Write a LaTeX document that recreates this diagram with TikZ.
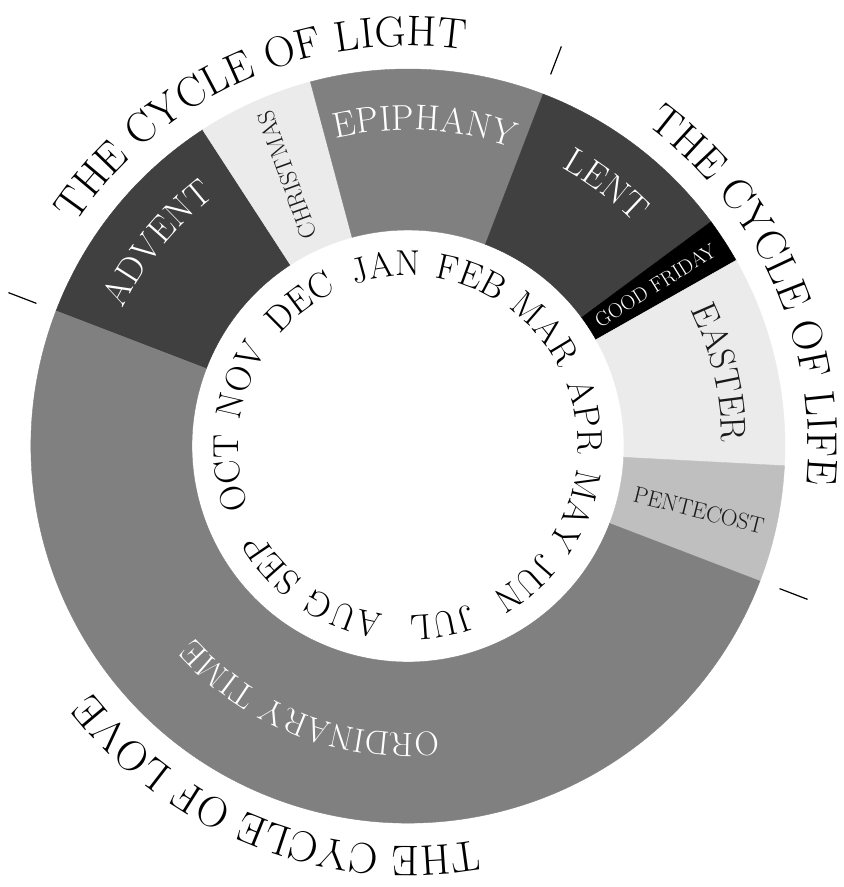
\documentclass[tikz,border=0pt]{standalone}
\usepackage{fontspec}
\usetikzlibrary{decorations.text}
\definecolor{segdark}{HTML}{404040}
\definecolor{seglight}{HTML}{EBEBEB}
\definecolor{segmid}{HTML}{808080}
\definecolor{segpale}{HTML}{BFBFBF}
\definecolor{inkdark}{HTML}{1A1A1A}
\newcommand\titfont{\fontsize{43}{43}\selectfont}
\newcommand\labfont{\fontsize{36}{36}\selectfont}
\newcommand\ordfont{\fontsize{34}{34}\selectfont}
\newcommand\monfont{\fontsize{36}{36}\selectfont}
% sector: colour, start angle, end angle
\newcommand\ringsector[3]{\fill[#1, draw=#1, line width=0.4pt] (#2:216pt) -- (#2:377pt) arc[start angle=#2, end angle=#3, radius=377pt] -- (#3:216pt) arc[start angle=#3, end angle=#2, radius=216pt] -- cycle;}
% curved text, clockwise, tops outward: centre angle, radius, format, text, half span
\newcommand\curvetext[5]{\path[decorate, decoration={text along path, text={|#3|#4}, text align=center}] ({#1+#5}:#2) arc[start angle={#1+#5}, end angle={#1-#5}, radius=#2];}
\tikzset{tick/.style={line width=1.2pt, black}}
\begin{document}
\begin{tikzpicture}[x=1pt, y=1pt]
\useasboundingbox (-408pt,-441pt) rectangle (436pt,446pt);
\fill[white] (-408pt,-441pt) rectangle (436pt,446pt);
% ring segments
\ringsector{segdark}{159}{123}
\ringsector{seglight}{123}{105}
\ringsector{segmid}{105}{69}
\ringsector{segdark}{69}{36.5}
\ringsector{black}{36.5}{29.5}
\ringsector{seglight}{29.5}{-3}
\ringsector{segpale}{-3}{-21}
\ringsector{segmid}{-21}{-201}
% cycle separators
\draw[tick] (159:398pt) -- (159:428pt);
\draw[tick] (69:398pt) -- (69:428pt);
\draw[tick] (-21:398pt) -- (-21:428pt);
% season labels
\curvetext{141}{316pt}{\labfont\color{white}}{ADVENT}{50}
\curvetext{87}{316pt}{\labfont\color{white}}{EPIPHANY}{50}
\curvetext{52.75}{318pt}{\labfont\color{white}}{LENT}{40}
\curvetext{13.25}{314pt}{\labfont\color{inkdark}}{EASTER}{40}
\curvetext{-111}{287pt}{\ordfont\color{white}}{ORDINARY TIME}{60}
\node[rotate=110, text=inkdark, font=\fontsize{24}{24}\selectfont, inner sep=0pt] (christmas) at (114:297pt) {CHRISTMAS};
\node[rotate=32, text=white, font=\fontsize{20.5}{20.5}\selectfont, inner sep=0pt] (goodfriday) at (33:295pt) {GOOD FRIDAY};
\node[rotate=-14, text=inkdark, font=\fontsize{23}{23}\selectfont, inner sep=0pt] (pentecost) at (-12.5:298pt) {PENTECOST};
% cycle titles
\curvetext{114}{400pt}{\titfont}{THE CYCLE OF LIGHT}{70}
\curvetext{24}{400pt}{\titfont}{THE CYCLE OF LIFE}{70}
\curvetext{-111}{400pt}{\titfont}{THE CYCLE OF LOVE}{70}
% months
\curvetext{97}{170pt}{\monfont}{JAN}{45}
\curvetext{69.5}{170pt}{\monfont}{FEB}{45}
\curvetext{40.5}{170pt}{\monfont}{MAR}{45}
\curvetext{9.5}{170pt}{\monfont}{APR}{45}
\curvetext{-21}{170pt}{\monfont}{MAY}{45}
\curvetext{-49.5}{170pt}{\monfont}{JUN}{45}
\curvetext{-79}{170pt}{\monfont}{JUL}{45}
\curvetext{-111}{170pt}{\monfont}{AUG}{45}
\curvetext{-139}{170pt}{\monfont}{SEP}{45}
\curvetext{-171.5}{170pt}{\monfont}{OCT}{45}
\curvetext{158.5}{170pt}{\monfont}{NOV}{45}
\curvetext{127}{170pt}{\monfont}{DEC}{45}
\end{tikzpicture}
\end{document}
